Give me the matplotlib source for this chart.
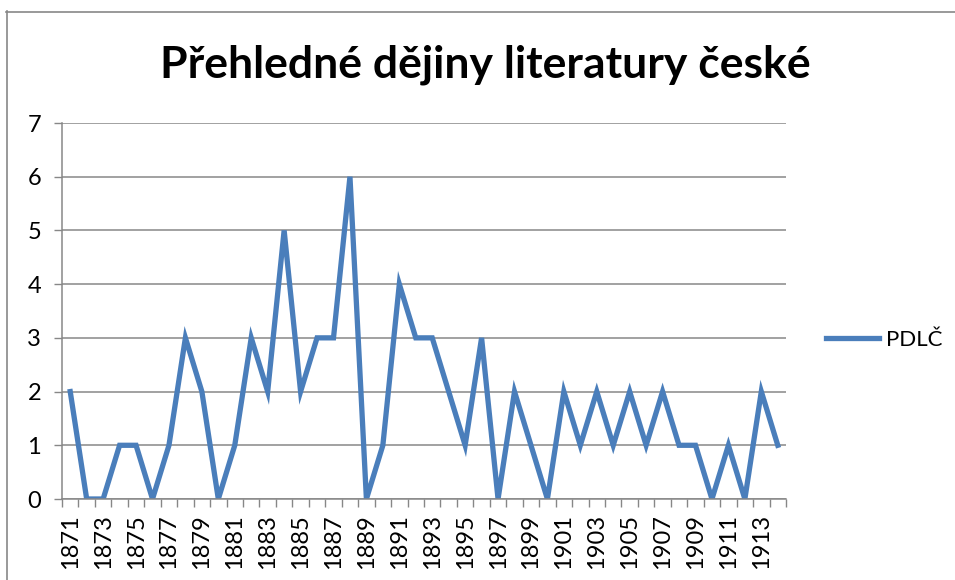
import matplotlib.pyplot as plt
from matplotlib.lines import Line2D
from matplotlib.ticker import FixedLocator, NullFormatter

years = list(range(1871, 1915))
counts = [2, 0, 0, 1, 1, 0, 1, 3, 2, 0,
          1, 3, 2, 5, 2, 3, 3, 6, 0, 1,
          4, 3, 3, 2, 1, 3, 0, 2, 1, 0,
          2, 1, 2, 1, 2, 1, 2, 1, 1, 0,
          1, 0, 2, 1]
series_name = 'PDLČ'
title = 'Přehledné dějiny literatury české'

plt.rcParams['font.family'] = ['Lato', 'DejaVu Sans']

W, H = 955, 580
fig = plt.figure(figsize=(W / 100, H / 100), dpi=100)
ax = fig.add_axes([62 / W, 1 - 499 / H, (786 - 62) / W, (499 - 123) / H])

grey = '#878787'
blue = '#4a7ebb'

pos = list(range(len(years)))
line, = ax.plot(pos, counts, color=blue, linewidth=3.8, solid_joinstyle='miter')

ax.set_xlim(-0.5, len(years) - 0.5)
ax.set_ylim(0, 7)

# y axis
ax.set_yticks(range(0, 8))
ax.tick_params(axis='y', direction='out', length=6, width=1, color=grey,
               labelsize=17, pad=9)
ax.yaxis.grid(True, color=grey, linewidth=1.1)
ax.set_axisbelow(True)

# x axis: labels every other year, ticks at category boundaries
ax.set_xticks(pos[::2])
ax.set_xticklabels([str(y) for y in years[::2]], rotation=90, fontsize=17)
ax.tick_params(axis='x', which='major', length=0, pad=11)
ax.xaxis.set_minor_locator(FixedLocator([p - 0.5 for p in pos] + [len(pos) - 0.5]))
ax.xaxis.set_minor_formatter(NullFormatter())
ax.tick_params(axis='x', which='minor', direction='out', length=6, width=1, color=grey)

for s in ['top', 'right']:
    ax.spines[s].set_visible(False)
for s in ['left', 'bottom']:
    ax.spines[s].set_color(grey)
    ax.spines[s].set_linewidth(1.1)

# title
fig.text(485 / W, 1 - 65 / H, title, ha='center', va='center',
         fontsize=32, fontweight='bold')

# legend
fig.legend([line], [series_name], loc='center left',
           bbox_to_anchor=(806 / W, 1 - 340 / H), frameon=False,
           fontsize=16, handlelength=2.4, handletextpad=0.3)

# chart border (left and top edges visible)
fig.add_artist(Line2D([6.5 / W, 6.5 / W], [0, 1 - 11 / H], color=grey, linewidth=1.2))
fig.add_artist(Line2D([6 / W, 1], [1 - 11.5 / H, 1 - 11.5 / H], color=grey, linewidth=1.2))

plt.savefig('out.png', dpi=100)
